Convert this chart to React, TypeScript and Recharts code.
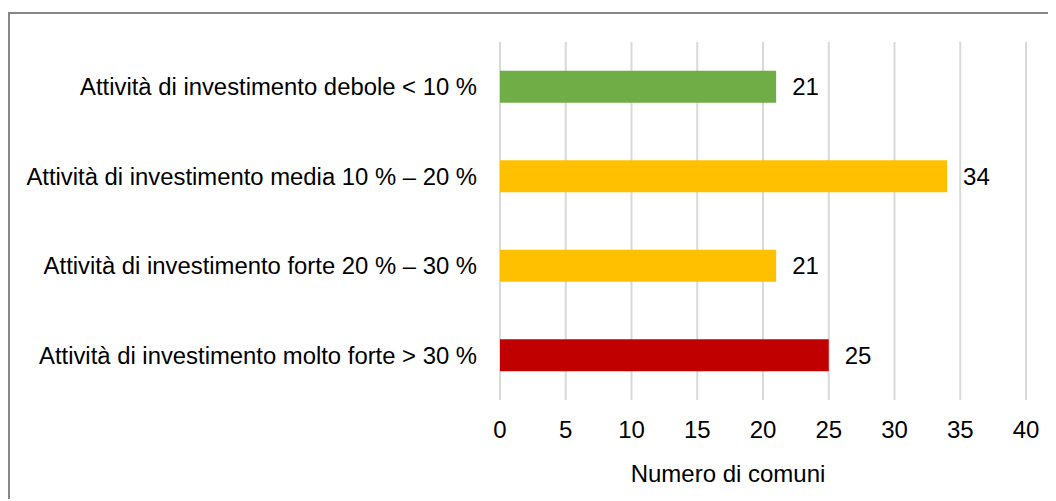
import React from "react";
import { BarChart, Bar, XAxis, YAxis, CartesianGrid, Cell, LabelList } from "recharts";

const categories = [
  "Attività di investimento debole < 10 %",
  "Attività di investimento media 10 % – 20 %",
  "Attività di investimento forte 20 % – 30 %",
  "Attività di investimento molto forte > 30 %",
];
const values = [21, 34, 21, 25];
const colors = ["#70ad47", "#ffc000", "#ffc000", "#c00000"];
const xTicks = [0, 5, 10, 15, 20, 25, 30, 35, 40];
const xTitle = "Numero di comuni";

const data = categories.map((c, i) => ({ name: c, value: values[i] }));
const font = "'Liberation Sans', Arial, sans-serif";
const fs = 24;

const TitleLabel = (props: any) => {
  const vb = props.viewBox || {};
  const cx = vb.x + vb.width / 2 - 35;
  const y = vb.y + vb.height;
  return (
    <text x={cx} y={y} textAnchor="middle" fill="#000" fontSize={fs} fontFamily={font}>
      {xTitle}
    </text>
  );
};

export default function App() {
  return (
    <div
      style={{
        marginTop: 4,
        width: 1046,
        height: 487,
        borderTop: "2px solid #878787",
        borderLeft: "2px solid #878787",
        boxSizing: "border-box",
        overflow: "hidden",
        fontFamily: font,
      }}
    >
      <BarChart
        width={1040}
        height={485}
        data={data}
        layout="vertical"
        margin={{ top: 28, right: 24, bottom: 17, left: 0 }}
        barCategoryGap="32%"
      >
        <CartesianGrid horizontal={false} stroke="#d9d9d9" strokeWidth={2} />
        <XAxis
          type="number"
          domain={[0, 40]}
          ticks={xTicks}
          axisLine={false}
          tickLine={false}
          tickMargin={15}
          height={82}
          tick={{ fill: "#000", fontSize: fs, fontFamily: font }}
          label={<TitleLabel />}
        />
        <YAxis
          type="category"
          dataKey="name"
          width={490}
          axisLine={false}
          tickLine={false}
          tickMargin={17}
          tick={{ fill: "#000", fontSize: 23.85, fontFamily: font }}
        />
        <Bar dataKey="value" isAnimationActive={false}>
          {data.map((d, i) => (
            <Cell key={i} fill={colors[i]} />
          ))}
          <LabelList dataKey="value" position="right" offset={16} fill="#000" fontSize={fs} fontFamily={font} />
        </Bar>
      </BarChart>
    </div>
  );
}
